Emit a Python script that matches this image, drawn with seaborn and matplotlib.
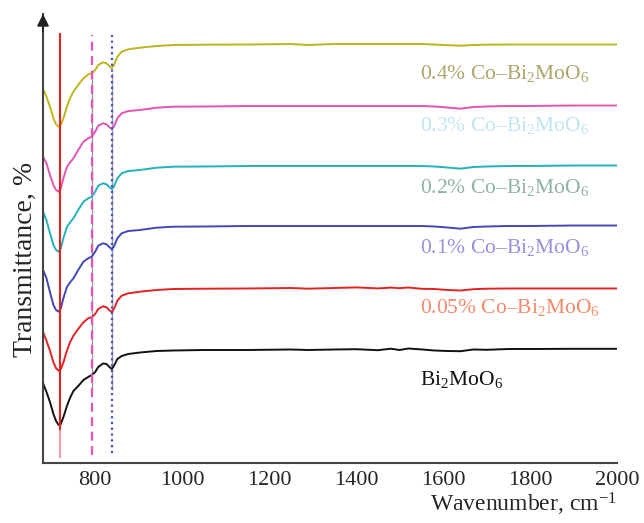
import numpy as np
import pandas as pd
import matplotlib
matplotlib.use("Agg")
import matplotlib.pyplot as plt
import seaborn as sns

# Wavenumber sampling points (cm^-1)
wn = [680, 688, 696, 704, 710, 716, 721, 727, 735, 742,
      750, 761, 773, 784, 792, 800, 807, 818, 826, 834,
      838, 843, 851, 861, 876, 903, 941, 980, 1050, 1150,
      1250, 1290, 1350, 1400, 1450, 1480, 1500, 1520, 1550, 1580,
      1610, 1640, 1670, 1700, 1750, 1800, 1900, 2000]

# Offset transmittance traces (arbitrary units, stacked)
t_04 = [374, 366.3, 356.3, 344.7, 338.7, 336.3, 338, 344.7, 356.3, 364.7,
        371.3, 378, 384.7, 388.7, 389.7, 393, 398, 400.7, 399.7, 396.3,
        394.7, 398, 406.3, 411.3, 413.7, 415.3, 417, 418, 418.3, 418.5,
        419, 418, 419, 419, 419, 419, 419, 419, 419, 418.5,
        417.8, 417.3, 418, 418.3, 418.5, 418.5, 418.5, 418.5]
t_03 = [306.3, 299.7, 288, 278, 273, 271.3, 274.7, 285, 296, 300.5,
        304.7, 313, 321.3, 324.7, 326.3, 331.3, 337.3, 339.7, 338.7, 335.3,
        334, 336.3, 344.7, 349.7, 352, 353, 355.3, 356.3, 356.5, 357,
        357, 357, 357, 357, 357, 357, 357, 357, 357, 356.5,
        355.5, 354.3, 356, 356.5, 357, 357, 357.5, 357.5]
t_02 = [251.3, 242.7, 230, 218, 213, 211.3, 214.7, 225, 236, 240.5,
        244.7, 253, 261.3, 264.7, 266.3, 271.3, 277.3, 279.7, 278.7, 275.3,
        274, 276.3, 284.7, 289.7, 292, 293, 295.3, 296.3, 296.5, 297,
        297, 297, 297, 297, 297, 297, 297, 297, 297, 296.5,
        295.5, 294.3, 296, 296.5, 297, 297, 297.5, 297.5]
t_01 = [193.3, 184.7, 171, 158, 153, 151.3, 154.7, 165, 176, 180.5,
        184.7, 193, 201.3, 204.7, 206.3, 211.3, 217.3, 219.7, 218.7, 215.3,
        214, 216.3, 224.7, 229.7, 232, 233, 235.3, 236.3, 236.5, 237,
        237, 237, 237, 237, 237, 237, 237, 237, 237, 236.5,
        235.5, 234.3, 236, 236.5, 237, 237, 237.5, 237.5]
t_005 = [131, 122.3, 112.3, 100.7, 94.7, 92.3, 94, 100.7, 112.3, 120.7,
         127.3, 134, 140.7, 144.7, 145.7, 149, 154, 156.7, 155.7, 152.3,
         150.7, 154, 162.3, 167.3, 169.7, 171.3, 173, 174, 174.3, 174.5,
         175, 174.3, 175, 175.6, 174.6, 175.4, 174.8, 175.5, 174.2, 174,
         173, 172.5, 173.8, 174.3, 174.5, 174.5, 174.5, 174.5]
t_pure = [80, 71, 61, 49, 42, 38, 39, 46, 57, 65,
          72, 77, 83, 86, 88, 91, 96, 99.5, 99, 95.5,
          94, 97, 104, 107, 109, 110.5, 112, 112.5, 113, 113,
          113.5, 113, 113.5, 113.8, 112.8, 114.3, 113, 114.5, 113.6, 112.5,
          112, 111.8, 113.5, 113.2, 114, 114, 114.2, 114.2]

series = {
    "0.4% Co–Bi2MoO6": t_04,
    "0.3% Co–Bi2MoO6": t_03,
    "0.2% Co–Bi2MoO6": t_02,
    "0.1% Co–Bi2MoO6": t_01,
    "0.05% Co–Bi2MoO6": t_005,
    "Bi2MoO6": t_pure,
}
line_colors = {
    "0.4% Co–Bi2MoO6": "#bdb61c",
    "0.3% Co–Bi2MoO6": "#e055b5",
    "0.2% Co–Bi2MoO6": "#22b2ba",
    "0.1% Co–Bi2MoO6": "#4048b8",
    "0.05% Co–Bi2MoO6": "#e32222",
    "Bi2MoO6": "#111111",
}
labels = [
    r"0.4% Co–Bi$_2$MoO$_6$",
    r"0.3% Co–Bi$_2$MoO$_6$",
    r"0.2% Co–Bi$_2$MoO$_6$",
    r"0.1% Co–Bi$_2$MoO$_6$",
    r"0.05% Co–Bi$_2$MoO$_6$",
    r"Bi$_2$MoO$_6$",
]
label_colors = ["#ada56a", "#bfe6f0", "#8fb3a3", "#9890dc", "#f38a6a", "#111111"]
label_y = [390, 338, 275, 215, 156, 84]
label_x = 1547

# Characteristic band positions (cm^-1)
bands = [718, 793, 838]

frames = [pd.DataFrame({"wavenumber": wn, "T": v, "sample": k}) for k, v in series.items()]
df = pd.concat(frames, ignore_index=True)

sns.set_style("white")
plt.rcParams["font.family"] = ["Liberation Serif", "DejaVu Serif"]
plt.rcParams["mathtext.fontset"] = "custom"
plt.rcParams["mathtext.rm"] = "Liberation Serif"
plt.rcParams["mathtext.it"] = "Liberation Serif:italic"

fig = plt.figure(figsize=(6.44, 5.23), dpi=100)
ax = fig.add_axes([43 / 644, 60 / 523, 574 / 644, 449 / 523])

# Band markers
ax.vlines(bands[1:], 73, 390, colors="#9a9a9a", lw=1.0, zorder=1)
ax.vlines(bands[0], 33, 430, colors="#e32222", lw=1.5, zorder=3)
ax.vlines(bands[0], 5, 33, colors="#f4a0a0", lw=1.5, zorder=3)
ax.vlines(bands[1], 8, 428, colors="#e055b5", lw=1.6, linestyles=(0, (4, 2.5)), zorder=3)
ax.vlines(bands[2], 10, 428, colors="#4050d0", lw=1.6, linestyles=(0, (1, 1.6)), zorder=3)

sns.lineplot(data=df, x="wavenumber", y="T", hue="sample", palette=line_colors,
             estimator=None, sort=False, legend=False, lw=1.4, ax=ax, zorder=2)

for lab, col, y in zip(labels, label_colors, label_y):
    ax.text(label_x, y, lab, color=col, fontsize=15.5, ha="left", va="center")

ax.set_xlim(680, 2000)
ax.set_ylim(0, 449)
ax.set_xticks([800, 1000, 1200, 1400, 1600, 1800, 2000])
ax.set_yticks([])
ax.tick_params(axis="x", direction="in", length=5, width=1.2, labelsize=16,
               color="#444444", pad=6)
for s in ["top", "right"]:
    ax.spines[s].set_visible(False)
for s in ["left", "bottom"]:
    ax.spines[s].set_color("#444444")
    ax.spines[s].set_linewidth(1.5)

ax.set_xlabel(r"Wavenumber, cm$^{-1}$", fontsize=17, loc="right", labelpad=0)
ax.set_ylabel("")
fig.text(25 / 644, 1 - 259 / 523, "Transmittance, %", fontsize=20,
         rotation=90, ha="center", va="center")

ax.annotate("", xy=(0, 1.0), xytext=(0, 0.96), xycoords="axes fraction",
            arrowprops=dict(arrowstyle="-|>", color="#222222", lw=1.2,
                            mutation_scale=18, shrinkA=0, shrinkB=0))

fig.savefig("out.png", dpi=100)
